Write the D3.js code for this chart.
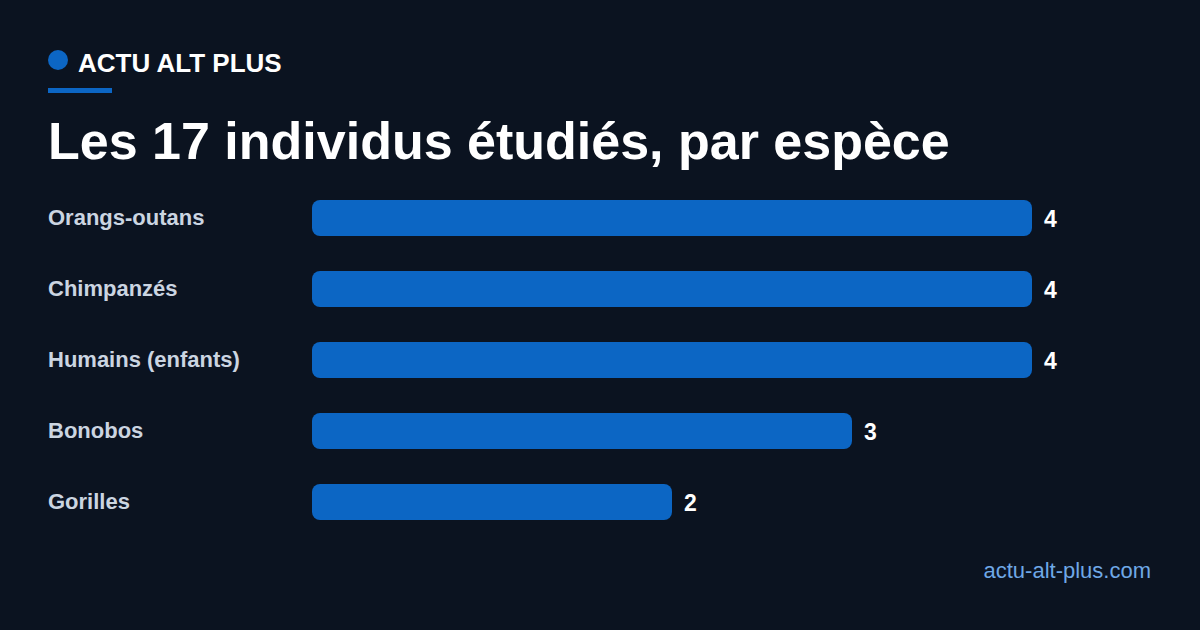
<!DOCTYPE html>
<html>
<head>
<meta charset="utf-8">
<script src="https://cdn.jsdelivr.net/npm/d3@7"></script>
<style>
  html, body { margin: 0; padding: 0; background: #0b1320; }
  svg { display: block; font-family: "Liberation Sans", Arial, sans-serif; }
</style>
</head>
<body>
<svg id="chart" width="1200" height="630"></svg>
<script>
'use strict';

const BRAND     = 'ACTU ALT PLUS';
const TITLE     = 'Les 17 individus étudiés, par espèce';
const SOURCE    = 'actu-alt-plus.com';
const SPECIES   = ['Orangs-outans', 'Chimpanzés', 'Humains (enfants)', 'Bonobos', 'Gorilles'];
const COUNTS    = [4, 4, 4, 3, 2];

const W = 1200, H = 630;
const BG     = '#0b1320';
const BLUE   = '#0c66c4';

const svg = d3.select('#chart');

svg.append('rect').attr('width', W).attr('height', H).attr('fill', BG);

// ── Header ───────────────────────────────────────────────────
svg.append('circle').attr('cx', 58).attr('cy', 60).attr('r', 10).attr('fill', BLUE);
svg.append('text')
  .attr('x', 78).attr('y', 72)
  .attr('font-size', 26).attr('font-weight', 700).attr('fill', '#ffffff')
  .text(BRAND);
svg.append('rect').attr('x', 48).attr('y', 88).attr('width', 64).attr('height', 5).attr('fill', BLUE);

svg.append('text')
  .attr('x', 48).attr('y', 159)
  .attr('font-size', 52).attr('font-weight', 700).attr('fill', '#ffffff')
  .text(TITLE);

// ── Bars ─────────────────────────────────────────────────────
// 36px bars on a 71px pitch
const x = d3.scaleLinear().domain([0, 4]).range([312, 1032]);
const y = d3.scaleBand().domain(SPECIES).range([200, 520]).paddingInner(35 / 71).paddingOuter(0);

const data = SPECIES.map((s, i) => ({ species: s, count: COUNTS[i] }));

const rows = svg.append('g').selectAll('g').data(data).join('g')
  .attr('transform', d => `translate(0,${y(d.species)})`);

rows.append('rect')
  .attr('x', x(0))
  .attr('width', d => x(d.count) - x(0))
  .attr('height', y.bandwidth())
  .attr('rx', 8)
  .attr('fill', BLUE);

rows.append('text')
  .attr('x', 48)
  .attr('y', y.bandwidth() / 2 + 7)
  .attr('font-size', 22).attr('font-weight', 700).attr('fill', '#cbd5e1')
  .text(d => d.species);

rows.append('text')
  .attr('x', d => x(d.count) + 12)
  .attr('y', y.bandwidth() / 2 + 9)
  .attr('font-size', 23).attr('font-weight', 700).attr('fill', '#ffffff')
  .text(d => d.count);

// ── Footer ───────────────────────────────────────────────────
svg.append('text')
  .attr('x', 1151).attr('y', 578)
  .attr('text-anchor', 'end')
  .attr('font-size', 22).attr('fill', '#6fa8e6')
  .text(SOURCE);
</script>
</body>
</html>
